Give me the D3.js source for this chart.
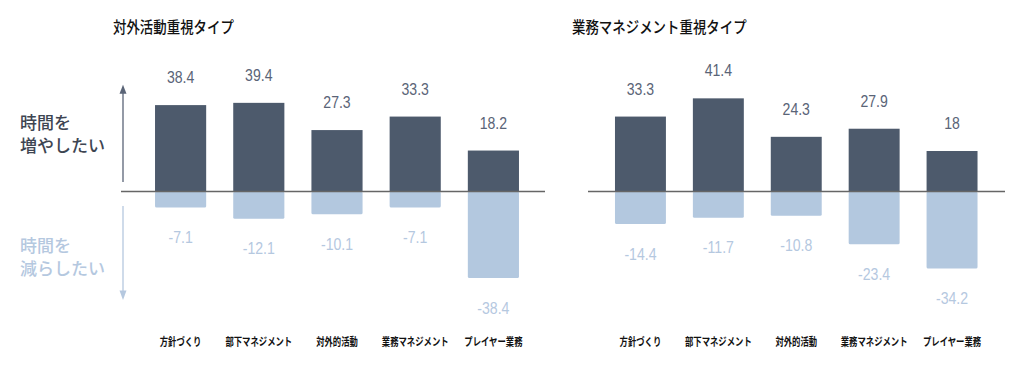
<!DOCTYPE html>
<html>
<head>
<meta charset="utf-8">
<script src="https://cdn.jsdelivr.net/npm/d3@7"></script>
<style>
  body { margin: 0; background: #fff; }
  svg { display: block; }
</style>
</head>
<body>
<svg id="chart" width="1024" height="373"></svg>
<script>
const categories = ["方針づくり", "部下マネジメント", "対外的活動", "業務マネジメント", "プレイヤー業務"];
const panelTitles = ["対外活動重視タイプ", "業務マネジメント重視タイプ"];
const increaseLeft = [38.4, 39.4, 27.3, 33.3, 18.2];
const decreaseLeft = [-7.1, -12.1, -10.1, -7.1, -38.4];
const increaseRight = [33.3, 41.4, 24.3, 27.9, 18];
const decreaseRight = [-14.4, -11.7, -10.8, -23.4, -34.2];
const sideLabels = [["時間を", "増やしたい"], ["時間を", "減らしたい"]];

const dark = "#4d5a6c";
const light = "#b3c8df";
const darkText = "#5a6477";
const lightText = "#b5c8df";

const svg = d3.select("#chart");
const jp = "'Noto Sans CJK JP', 'Noto Sans', sans-serif";
const num = "'Liberation Sans', Arial, sans-serif";

const baseY = 191.5;
const y = d3.scaleLinear().domain([-45, 45]).range([baseY + 101.25, baseY - 101.25]);

const panels = [
  { title: panelTitles[0], pos: increaseLeft, neg: decreaseLeft, range: [141.5, 532.5], line: [121, 545], titleX: 113 },
  { title: panelTitles[1], pos: increaseRight, neg: decreaseRight, range: [601.5, 991], line: [588, 1005], titleX: 572 }
];

panels.forEach(p => {
  const x = d3.scaleBand().domain(categories).range(p.range).paddingInner(0.346).paddingOuter(0.173);
  const g = svg.append("g");

  g.append("text")
    .attr("transform", `translate(${p.titleX},27) scale(0.84,1)`)
    .attr("dy", "0.35em")
    .attr("font-family", jp)
    .attr("font-size", 16)
    .attr("font-weight", 500)
    .attr("fill", "#111")
    .text(p.title);

  const rows = categories.map((c, i) => ({ c, pos: p.pos[i], neg: p.neg[i] }));

  g.selectAll("rect.neg").data(rows).join("rect")
    .attr("class", "neg")
    .attr("x", d => x(d.c))
    .attr("width", x.bandwidth())
    .attr("y", y(0))
    .attr("height", d => y(d.neg) - y(0))
    .attr("rx", 1.5)
    .attr("fill", light);

  g.selectAll("rect.pos").data(rows).join("rect")
    .attr("class", "pos")
    .attr("x", d => x(d.c))
    .attr("width", x.bandwidth())
    .attr("y", d => y(d.pos))
    .attr("height", d => y(0) - y(d.pos))
    .attr("fill", dark);

  g.append("line")
    .attr("x1", p.line[0]).attr("x2", p.line[1])
    .attr("y1", y(0)).attr("y2", y(0))
    .attr("stroke", "#666")
    .attr("stroke-width", 1.3);

  g.selectAll("text.pv").data(rows).join("text")
    .attr("class", "pv")
    .attr("transform", d => `translate(${x(d.c) + x.bandwidth() / 2},${y(d.pos) - 27.5}) scale(0.88,1)`)
    .attr("dy", "0.35em")
    .attr("text-anchor", "middle")
    .attr("font-family", num)
    .attr("font-size", 16)
    .attr("fill", darkText)
    .text(d => d.pos);

  g.selectAll("text.nv").data(rows).join("text")
    .attr("class", "nv")
    .attr("transform", d => `translate(${x(d.c) + x.bandwidth() / 2},${y(d.neg) + 30}) scale(0.88,1)`)
    .attr("dy", "0.35em")
    .attr("text-anchor", "middle")
    .attr("font-family", num)
    .attr("font-size", 16)
    .attr("fill", lightText)
    .text(d => d.neg);

  g.selectAll("text.cat").data(rows).join("text")
    .attr("class", "cat")
    .attr("transform", d => `translate(${x(d.c) + x.bandwidth() / 2},342) scale(0.76,1)`)
    .attr("dy", "0.35em")
    .attr("text-anchor", "middle")
    .attr("font-family", jp)
    .attr("font-size", 11)
    .attr("font-weight", 700)
    .attr("fill", "#111")
    .text(d => d.c);
});

// side arrows and labels
const arrowX = 123;
const up = svg.append("g").attr("fill", darkText).attr("stroke", darkText);
up.append("line").attr("x1", arrowX).attr("x2", arrowX).attr("y1", y(4.2)).attr("y2", y(45)).attr("stroke-width", 1.3);
up.append("path").attr("stroke", "none")
  .attr("d", `M${arrowX - 3.5},${y(43.5)}L${arrowX + 3.5},${y(43.5)}L${arrowX},${y(47.4)}Z`);

const down = svg.append("g").attr("fill", lightText).attr("stroke", lightText);
down.append("line").attr("x1", arrowX).attr("x2", arrowX).attr("y1", y(-6.4)).attr("y2", y(-45.5)).attr("stroke-width", 1.3);
down.append("path").attr("stroke", "none")
  .attr("d", `M${arrowX - 3.5},${y(-44)}L${arrowX + 3.5},${y(-44)}L${arrowX},${y(-48.2)}Z`);

const sideY = [[123, 146], [246, 269]];
sideLabels.forEach((lines, i) => {
  svg.append("g").selectAll("text").data(lines).join("text")
    .attr("x", 20)
    .attr("y", (d, j) => sideY[i][j])
    .attr("dy", "0.35em")
    .attr("font-family", jp)
    .attr("font-size", 17)
    .attr("font-weight", 500)
    .attr("fill", i === 0 ? "#3e4552" : lightText)
    .text(d => d);
});
</script>
</body>
</html>
